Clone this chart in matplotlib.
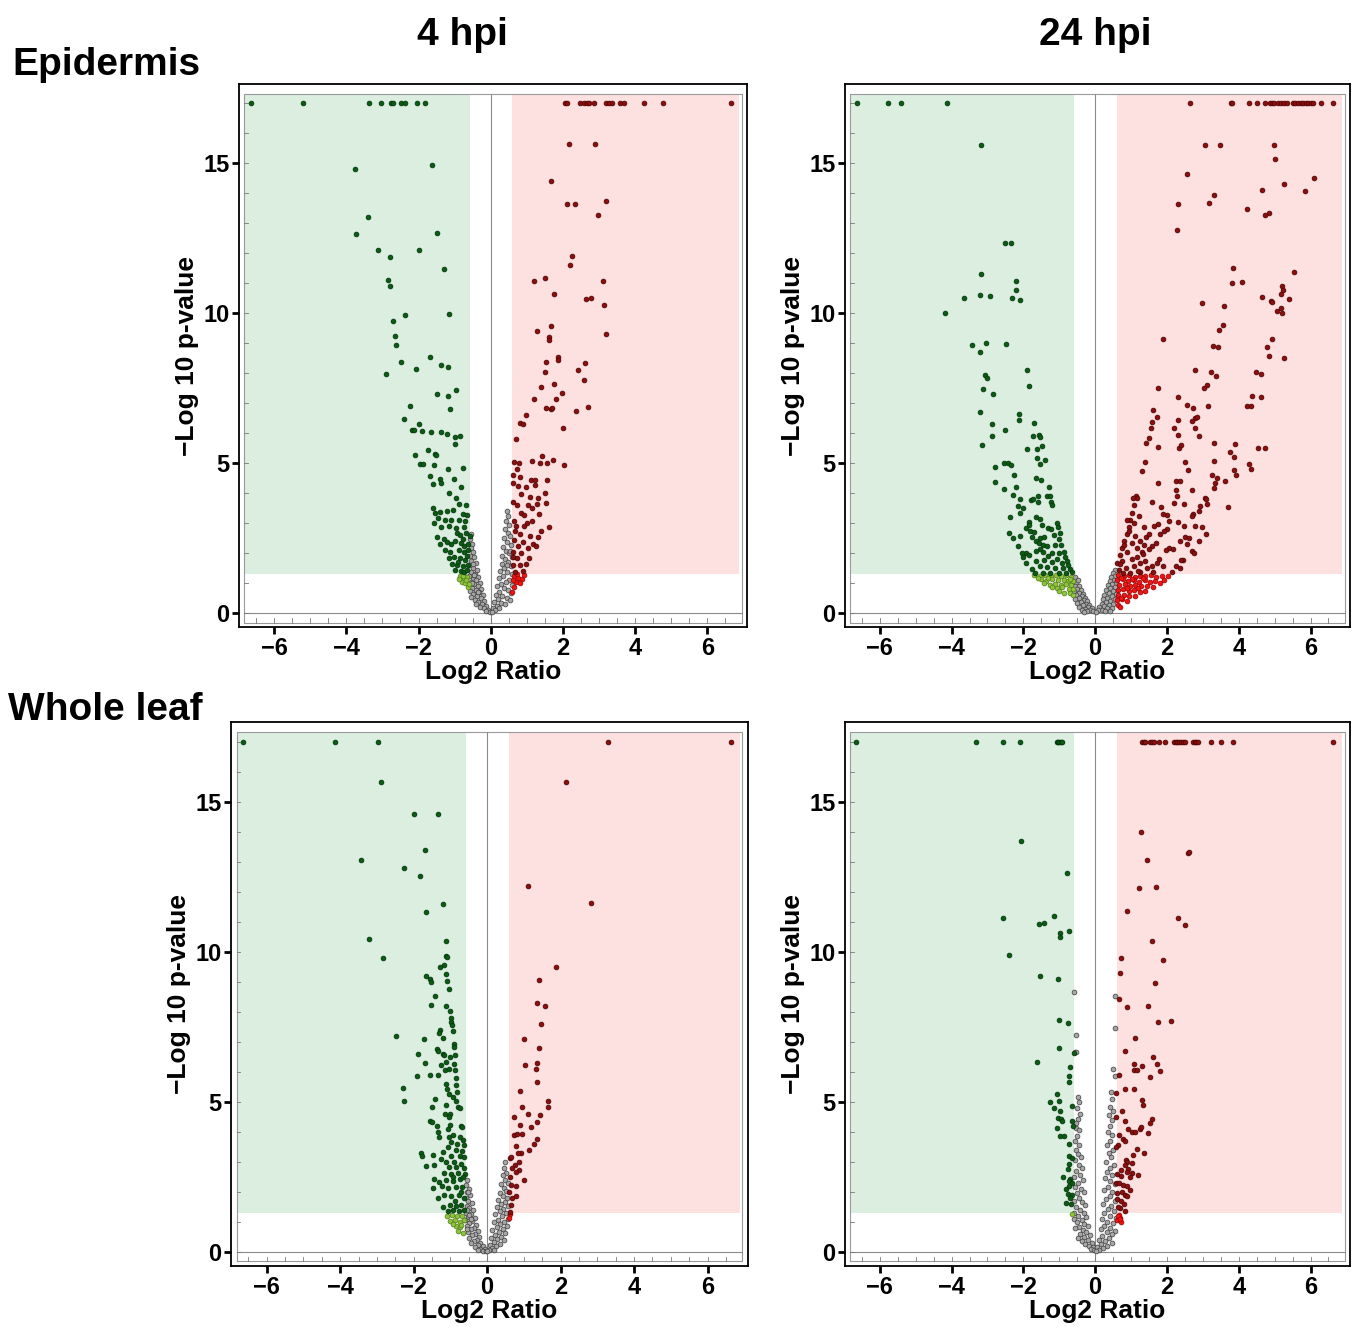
import matplotlib
matplotlib.use("Agg")
import matplotlib.pyplot as plt
import numpy as np

plt.rcParams["font.family"] = ["Liberation Sans", "DejaVu Sans"]
plt.rcParams["font.weight"] = "bold"

# ---------------- data (Log2 ratio, -log10 p) ----------------
# Epidermis 4 hpi
epi4_down = [(-6.63, 17), (-5.19, 17), (-3.36, 17), (-3.05, 17), (-2.77, 17), (-2.72, 17), (-2.49, 17),
             (-2.38, 17), (-2.03, 17), (-1.82, 17),
             (-3.77, 14.8), (-1.63, 14.94), (-3.40, 13.2), (-3.74, 12.65), (-1.49, 12.67), (-3.13, 12.12),
             (-1.99, 12.1), (-2.78, 11.87), (-1.29, 11.46), (-2.84, 11.12), (-2.80, 10.9), (-2.38, 9.94),
             (-1.15, 9.96), (-2.72, 9.74), (-2.64, 9.25), (-2.61, 8.95), (-1.67, 8.54), (-2.48, 8.37),
             (-1.38, 8.26), (-2.07, 8.15), (-1.17, 8.2), (-2.89, 7.98), (-1.49, 7.3), (-1.17, 7.23),
             (-0.96, 7.45), (-1.13, 6.8), (-2.23, 6.9), (-2.40, 6.46), (-2.18, 6.11), (-2.12, 6.09),
             (-1.98, 6.31), (-1.90, 6.06), (-1.65, 6.03), (-1.37, 6.03), (-1.20, 5.98), (-0.99, 5.87),
             (-0.84, 5.91), (-0.99, 5.64), (-2.11, 5.25), (-1.73, 5.43), (-1.54, 5.30), (-1.51, 5.25),
             (-1.95, 4.96), (-1.88, 4.96), (-1.56, 4.93), (-1.18, 4.80), (-0.78, 4.83), (-1.69, 4.56),
             (-1.40, 4.46), (-1.38, 4.32), (-1.59, 4.28), (-1.03, 4.46), (-0.83, 4.20), (-1.15, 4.01),
             (-0.96, 3.84), (-0.88, 3.63), (-0.68, 3.58), (-1.59, 3.48), (-1.54, 3.32), (-1.40, 3.37),
             (-1.21, 3.39), (-1.04, 3.44), (-0.78, 3.29), (-0.65, 3.25), (-1.45, 3.17), (-1.28, 3.10),
             (-1.09, 3.08), (-0.88, 3.10), (-0.70, 3.05), (-1.56, 3.01), (-1.38, 2.86), (-1.15, 2.89),
             (-0.97, 2.82), (-0.74, 2.86), (-0.93, 2.67), (-0.84, 2.59), (-0.69, 2.65), (-0.58, 2.55),
             (-1.49, 2.53), (-1.30, 2.47), (-1.21, 2.36), (-1.10, 2.29), (-1.00, 2.39), (-0.82, 2.34),
             (-0.73, 2.23), (-1.40, 2.29), (-1.26, 2.08), (-1.12, 2.03), (-0.88, 2.08), (-0.74, 2.03),
             (-0.63, 2.08), (-1.16, 1.81), (-1.02, 1.86), (-0.84, 1.81), (-0.70, 1.75), (-1.07, 1.63),
             (-0.93, 1.58), (-0.76, 1.55), (-0.63, 1.60), (-0.81, 1.40), (-0.73, 1.36), (-0.98, 1.43),
             (-0.65, 1.43), (-0.90, 1.70), (-0.66, 1.90), (-0.78, 2.45), (-0.62, 2.30)]
epi4_down_ns = [(-0.84, 1.22), (-0.74, 1.16), (-0.65, 1.19), (-0.79, 1.04), (-0.70, 0.98), (-0.63, 0.86),
                (-0.88, 1.12), (-0.77, 1.24), (-0.68, 1.08), (-0.60, 0.95)]
epi4_up = [(2.05, 17), (2.12, 17), (2.47, 17), (2.58, 17), (2.66, 17), (2.73, 17), (2.87, 17), (3.20, 17),
           (3.27, 17), (3.35, 17), (3.59, 17), (3.68, 17), (4.24, 17), (4.76, 17), (6.64, 17),
           (2.18, 15.64), (2.88, 15.64), (1.66, 14.42), (2.12, 13.65), (2.33, 13.63), (3.18, 13.75),
           (2.97, 13.27), (2.25, 11.92), (2.20, 11.59), (1.21, 11.06), (1.49, 11.17), (3.11, 11.07),
           (1.76, 10.64), (2.63, 10.47), (2.79, 10.52), (3.14, 10.26), (1.67, 9.57), (1.28, 9.39),
           (1.60, 9.19), (1.60, 9.09), (3.18, 9.3), (1.86, 8.53), (1.86, 8.42), (1.53, 8.38), (1.49, 8.05),
           (2.62, 8.35), (2.42, 8.09), (2.57, 7.76), (1.38, 7.55), (1.75, 7.64), (1.97, 7.34), (1.19, 7.12),
           (1.82, 7.12), (1.53, 6.82), (1.66, 6.79), (1.69, 6.83), (2.36, 6.72), (2.68, 6.85), (0.97, 6.59),
           (0.80, 6.34), (0.89, 6.31), (2.01, 6.18), (0.71, 5.79), (2.03, 4.92), (1.43, 5.24), (1.15, 5.05),
           (1.36, 4.98), (1.56, 5.01), (1.73, 5.08), (0.65, 5.04), (0.78, 4.99), (0.73, 4.8), (0.63, 4.61),
           (0.80, 4.53), (1.12, 4.42), (1.23, 4.42), (1.56, 4.44), (0.61, 4.32), (0.76, 4.22), (0.97, 4.20),
           (1.23, 4.27), (1.49, 3.99), (0.84, 3.96), (1.08, 3.87), (1.30, 3.84), (0.61, 3.68), (0.74, 3.60),
           (1.02, 3.60), (1.27, 3.64), (1.53, 3.65), (1.14, 3.48), (0.84, 3.34), (0.93, 3.25), (1.35, 3.31),
           (0.65, 3.05), (1.00, 3.01), (1.15, 3.07), (1.62, 2.86), (0.67, 2.74), (0.91, 2.89), (1.40, 2.74),
           (0.82, 2.62), (1.08, 2.55), (1.30, 2.53), (0.65, 2.41), (0.89, 2.35), (1.17, 2.29), (0.76, 2.22),
           (1.02, 2.15), (1.26, 2.23), (0.63, 2.03), (0.85, 1.99), (1.06, 1.84), (0.72, 1.81), (0.63, 1.60),
           (0.80, 1.58), (0.98, 1.63), (0.89, 1.40), (0.67, 1.36), (0.70, 2.90), (0.62, 1.85)]
epi4_up_ns = [(0.65, 1.22), (0.76, 1.16), (0.87, 1.12), (0.70, 1.04), (0.81, 0.98), (0.65, 0.86),
              (0.74, 1.28), (0.60, 0.68), (0.92, 1.25), (0.62, 1.10)]
epi4_ns = [(-0.55, 2.62), (-0.58, 2.45), (-0.52, 2.30), (-0.56, 2.15), (-0.50, 2.02), (-0.58, 1.90),
           (-0.46, 1.85), (-0.54, 1.72), (-0.42, 1.65), (-0.58, 1.58), (-0.48, 1.50), (-0.38, 1.42),
           (-0.55, 1.36), (-0.44, 1.30), (-0.60, 1.22), (-0.34, 1.20), (-0.50, 1.14), (-0.40, 1.08),
           (-0.56, 1.02), (-0.30, 1.00), (-0.46, 0.95), (-0.36, 0.88), (-0.52, 0.84), (-0.26, 0.80),
           (-0.42, 0.76), (-0.58, 0.72), (-0.32, 0.68), (-0.48, 0.62), (-0.22, 0.60), (-0.38, 0.55),
           (-0.54, 0.52), (-0.28, 0.48), (-0.44, 0.42), (-0.18, 0.40), (-0.34, 0.36), (-0.24, 0.30),
           (-0.40, 0.28), (-0.14, 0.22), (-0.30, 0.20), (-0.20, 0.14), (-0.08, 0.10), (-0.12, 0.05),
           (-0.02, 0.02), (-0.50, 1.62), (-0.46, 1.25), (-0.52, 0.98), (-0.36, 0.70),
           (0.45, 3.40), (0.48, 3.22), (0.43, 3.05), (0.50, 2.92), (0.40, 2.80), (0.47, 2.66), (0.52, 2.55),
           (0.38, 2.48), (0.45, 2.36), (0.55, 2.25), (0.35, 2.18), (0.42, 2.06), (0.50, 1.98), (0.32, 1.90),
           (0.58, 1.85), (0.40, 1.78), (0.48, 1.68), (0.30, 1.62), (0.55, 1.55), (0.38, 1.48), (0.26, 1.40),
           (0.46, 1.35), (0.58, 1.28), (0.34, 1.22), (0.22, 1.15), (0.50, 1.10), (0.42, 1.02), (0.28, 0.96),
           (0.58, 0.92), (0.18, 0.88), (0.36, 0.82), (0.48, 0.76), (0.24, 0.70), (0.56, 0.66), (0.14, 0.60),
           (0.32, 0.56), (0.44, 0.50), (0.20, 0.45), (0.52, 0.42), (0.10, 0.36), (0.28, 0.32), (0.40, 0.28),
           (0.16, 0.22), (0.06, 0.16), (0.24, 0.14), (0.12, 0.08), (0.03, 0.03), (0.52, 2.05), (0.44, 1.58)]

# Epidermis 24 hpi
epi24_down = [(-6.64, 17), (-5.76, 17), (-5.40, 17), (-4.13, 17),
              (-3.19, 15.62), (-2.51, 12.35), (-2.34, 12.35), (-3.19, 11.32), (-2.20, 11.07), (-2.20, 10.76),
              (-3.66, 10.52), (-3.21, 10.62), (-2.94, 10.57), (-2.31, 10.52), (-2.10, 10.43), (-4.18, 10.0),
              (-3.44, 8.94), (-3.03, 8.99), (-2.48, 8.97), (-3.21, 8.71), (-1.89, 8.10), (-3.07, 7.94),
              (-3.01, 7.85), (-1.83, 7.57), (-3.12, 7.48), (-2.85, 7.30), (-3.21, 6.71), (-2.11, 6.63),
              (-2.12, 6.44), (-2.87, 6.31), (-1.69, 6.32), (-2.51, 6.10), (-1.74, 5.89), (-1.57, 5.92),
              (-1.55, 5.85), (-2.88, 5.89), (-3.15, 5.61), (-1.89, 5.47), (-1.63, 5.48), (-1.48, 5.55),
              (-1.62, 5.17), (-1.41, 5.08), (-1.53, 4.96), (-2.54, 4.99), (-2.43, 5.01), (-2.35, 4.94),
              (-2.79, 4.87), (-2.25, 4.59), (-1.66, 4.50), (-1.50, 4.43), (-2.78, 4.36), (-2.20, 4.20),
              (-1.28, 4.18), (-2.53, 4.12), (-2.30, 3.94), (-1.58, 3.88), (-1.33, 3.88), (-1.25, 3.88),
              (-2.08, 3.78), (-1.80, 3.76), (-1.72, 3.79), (-1.59, 3.70), (-1.22, 3.70), (-2.14, 3.56),
              (-1.19, 3.58), (-2.01, 3.48), (-2.08, 3.32), (-2.38, 3.20), (-1.65, 3.20), (-1.55, 3.13),
              (-1.83, 3.02), (-1.85, 2.94), (-1.49, 2.92), (-1.30, 2.84), (-1.05, 2.98), (-1.03, 2.86),
              (-1.22, 2.80), (-1.94, 2.82), (-1.82, 2.72), (-1.70, 2.70), (-2.41, 2.65), (-0.98, 2.65),
              (-2.08, 2.55), (-1.76, 2.51), (-1.55, 2.48), (-1.42, 2.53), (-1.00, 2.47), (-2.30, 2.48),
              (-1.65, 2.39), (-1.57, 2.32), (-1.46, 2.27), (-2.15, 2.24), (-1.35, 2.21), (-1.11, 2.27),
              (-0.95, 2.27), (-1.53, 2.14), (-1.92, 2.00), (-1.83, 1.91), (-1.65, 2.05), (-1.44, 2.03),
              (-1.32, 1.89), (-2.03, 2.00), (-1.20, 2.00), (-1.02, 2.00), (-0.88, 2.03), (-2.02, 1.85),
              (-1.64, 1.73), (-1.42, 1.77), (-1.21, 1.69), (-1.05, 1.79), (-0.93, 1.67), (-0.79, 1.73),
              (-1.93, 1.67), (-1.53, 1.55), (-1.33, 1.53), (-1.11, 1.49), (-0.90, 1.49), (-0.71, 1.46),
              (-1.44, 1.34), (-1.25, 1.31), (-1.67, 1.31), (-1.02, 1.34), (-0.81, 1.34), (-0.65, 1.37),
              (-1.15, 2.60), (-0.85, 1.85), (-1.75, 1.45), (-0.75, 1.58)]
epi24_down_ns = [(-1.70, 1.25), (-1.55, 1.21), (-1.41, 1.26), (-1.24, 1.22), (-1.10, 1.25), (-0.96, 1.21),
                 (-0.81, 1.26), (-0.66, 1.20), (-1.52, 1.11), (-1.36, 1.07), (-1.19, 1.13), (-1.04, 1.08),
                 (-0.88, 1.10), (-0.76, 1.05), (-0.62, 1.06), (-1.42, 0.99), (-1.27, 0.94), (-1.12, 0.97),
                 (-0.95, 0.93), (-0.81, 0.97), (-0.66, 0.92), (-1.21, 0.85), (-1.06, 0.81), (-0.91, 0.86),
                 (-0.74, 0.80), (-0.62, 0.78), (-1.01, 0.71), (-0.86, 0.67), (-0.71, 0.66), (-0.61, 0.60),
                 (-1.30, 1.17), (-0.70, 1.14), (-1.60, 1.16)]
epi24_up = [(2.63, 17), (3.78, 17), (3.82, 17), (4.30, 17), (4.50, 17), (4.73, 17), (4.86, 17), (4.93, 17),
            (4.99, 17), (5.10, 17), (5.17, 17), (5.27, 17), (5.34, 17), (5.52, 17), (5.58, 17), (5.66, 17),
            (5.73, 17), (5.80, 17), (5.88, 17), (5.93, 17), (6.00, 17), (6.08, 17), (6.29, 17), (6.62, 17),
            (3.07, 15.62), (3.49, 15.62), (4.98, 15.62), (5.01, 15.13), (2.57, 14.63), (6.10, 14.50),
            (5.26, 14.30), (5.85, 14.09), (4.65, 14.10), (3.32, 13.96), (2.32, 13.63), (3.17, 13.66),
            (4.24, 13.46), (4.73, 13.28), (4.84, 13.34), (2.29, 12.77), (3.83, 11.52), (3.82, 11.0),
            (4.08, 11.04), (5.53, 11.37), (5.21, 10.89), (5.23, 10.76), (5.17, 10.64), (4.89, 10.41),
            (4.93, 10.38), (4.65, 10.54), (5.39, 10.48), (2.98, 10.33), (3.59, 10.24), (5.18, 10.18),
            (5.07, 10.08), (5.21, 10.0), (3.55, 9.61), (3.45, 9.43), (1.88, 9.13), (4.94, 9.15),
            (3.27, 8.89), (3.42, 8.87), (4.80, 8.87), (4.85, 8.56), (5.26, 8.51), (2.78, 8.10), (3.22, 8.04),
            (3.38, 7.90), (4.48, 8.02), (4.61, 7.97), (3.11, 7.61), (3.04, 7.49), (1.74, 7.49), (2.31, 7.20),
            (4.36, 7.24), (4.61, 7.21), (2.55, 6.92), (2.74, 6.84), (3.14, 6.89), (4.22, 6.91), (4.35, 6.91),
            (1.61, 6.75), (1.72, 6.54), (2.32, 6.44), (2.79, 6.49), (2.84, 6.53), (2.71, 6.41), (1.58, 6.38),
            (1.55, 6.18), (2.21, 6.15), (2.79, 6.15), (2.32, 5.94), (2.90, 5.89), (1.51, 5.84), (1.41, 5.67),
            (1.74, 5.54), (2.33, 5.51), (2.40, 5.61), (3.30, 5.66), (3.90, 5.62), (4.55, 5.51), (4.72, 5.50),
            (3.76, 5.35), (3.88, 5.21), (2.49, 5.04), (3.31, 5.06), (1.39, 5.02), (4.28, 4.95), (4.35, 4.79),
            (2.60, 4.76), (3.86, 4.75), (3.93, 4.58), (1.31, 4.73), (3.26, 4.61), (3.39, 4.51), (3.34, 4.32),
            (3.61, 4.40), (3.32, 4.15), (1.76, 4.32), (2.25, 4.38), (2.37, 4.38), (2.25, 4.08), (2.71, 4.08),
            (2.29, 3.88), (3.05, 3.84), (3.10, 3.79), (3.11, 3.64), (2.92, 3.56), (2.48, 3.63), (2.21, 3.65),
            (1.59, 3.68), (1.84, 3.53), (1.13, 3.91), (1.17, 3.84), (3.70, 3.54), (2.74, 3.28), (2.70, 3.22),
            (2.88, 3.39), (2.01, 3.27), (1.89, 3.29), (2.31, 3.03), (2.06, 3.05), (1.76, 2.95), (1.65, 2.89),
            (2.47, 2.88), (2.78, 2.89), (2.97, 2.86), (2.01, 2.79), (1.93, 2.72), (1.81, 2.63), (3.09, 2.63),
            (2.50, 2.52), (2.62, 2.48), (2.37, 2.39), (2.90, 2.39), (2.55, 2.30), (1.70, 2.32), (1.58, 2.24),
            (1.51, 2.12), (2.06, 2.15), (2.18, 2.12), (1.97, 2.08), (2.69, 2.05), (2.75, 2.00), (2.46, 1.77),
            (2.39, 1.75), (1.79, 1.79), (1.72, 1.67), (2.25, 1.55), (2.37, 1.49), (1.88, 1.55), (2.15, 1.36),
            (1.05, 3.82), (1.07, 3.58), (1.02, 3.34), (0.97, 3.10), (0.93, 2.86), (0.88, 2.63), (0.81, 2.39),
            (0.74, 2.15), (0.68, 1.91), (0.62, 1.67), (0.93, 2.74), (1.11, 2.57), (1.25, 2.39), (1.36, 2.27),
            (1.30, 2.03), (1.16, 2.15), (1.02, 2.32), (0.88, 2.03), (1.02, 1.79), (1.16, 1.85), (1.25, 1.67),
            (1.39, 1.73), (0.74, 1.73), (0.86, 1.49), (1.07, 1.55), (1.44, 1.49), (1.58, 1.55), (1.62, 1.37),
            (0.97, 1.31), (0.77, 1.34), (1.25, 1.37), (0.90, 3.10), (1.09, 2.98), (1.21, 3.22), (1.35, 2.86),
            (1.42, 2.51), (1.51, 2.63), (0.79, 2.27), (0.68, 1.61), (0.66, 1.42), (1.18, 1.40), (1.33, 1.95)]
epi24_up_ns = [(0.65, 1.25), (0.80, 1.21), (0.95, 1.26), (1.10, 1.20), (1.25, 1.24), (1.40, 1.21), (1.55, 1.25),
               (1.70, 1.20), (1.85, 1.24), (2.02, 1.22), (0.62, 1.08), (0.78, 1.11), (0.92, 1.05), (1.08, 1.09),
               (1.22, 1.04), (1.38, 1.08), (1.52, 1.02), (1.68, 1.06), (1.80, 1.00), (0.66, 0.92), (0.82, 0.95),
               (0.98, 0.90), (1.12, 0.94), (1.28, 0.88), (1.45, 0.90), (1.60, 0.85), (0.63, 0.76), (0.78, 0.78),
               (0.94, 0.72), (1.08, 0.76), (1.25, 0.70), (1.40, 0.72), (0.65, 0.58), (0.80, 0.60), (0.95, 0.55),
               (1.10, 0.56), (0.62, 0.42), (0.75, 0.44), (0.88, 0.40), (0.64, 0.26), (0.70, 0.18),
               (0.72, 1.16), (1.02, 1.14), (1.32, 1.15), (0.88, 0.84), (1.18, 0.82), (0.71, 0.50), (1.93, 1.10)]
epi24_ns = [(-0.58, 1.05), (-0.52, 0.98), (-0.56, 0.88), (-0.46, 0.90), (-0.50, 0.80), (-0.40, 0.76), (-0.58, 0.72),
            (-0.44, 0.66), (-0.34, 0.62), (-0.52, 0.60), (-0.38, 0.54), (-0.28, 0.50), (-0.46, 0.48), (-0.56, 0.44),
            (-0.32, 0.42), (-0.22, 0.38), (-0.40, 0.36), (-0.50, 0.32), (-0.26, 0.30), (-0.16, 0.26), (-0.34, 0.24),
            (-0.44, 0.20), (-0.20, 0.18), (-0.10, 0.14), (-0.28, 0.12), (-0.38, 0.10), (-0.14, 0.08), (-0.05, 0.05),
            (-0.22, 0.04), (-0.30, 0.03), (-0.55, 1.20), (-0.48, 1.08),
            (0.55, 1.42), (0.50, 1.32), (0.56, 1.22), (0.45, 1.20), (0.52, 1.10), (0.40, 1.06), (0.58, 1.00),
            (0.46, 0.96), (0.35, 0.92), (0.54, 0.86), (0.42, 0.82), (0.30, 0.76), (0.50, 0.72), (0.38, 0.66),
            (0.58, 0.62), (0.26, 0.58), (0.46, 0.56), (0.34, 0.50), (0.22, 0.44), (0.54, 0.46), (0.42, 0.40),
            (0.30, 0.36), (0.18, 0.30), (0.50, 0.30), (0.38, 0.26), (0.26, 0.22), (0.12, 0.18), (0.46, 0.16),
            (0.34, 0.14), (0.20, 0.10), (0.08, 0.08), (0.28, 0.06), (0.40, 0.05), (0.02, 0.02)]

# Whole leaf 4 hpi
wl4_down = [(-6.65, 17), (-4.15, 17), (-2.98, 17),
            (-2.88, 15.66), (-1.98, 14.58), (-1.34, 14.58), (-1.70, 13.39), (-3.43, 13.06), (-2.25, 12.77),
            (-1.82, 12.52), (-1.20, 11.58), (-1.66, 11.33), (-3.21, 10.42), (-2.82, 9.80), (-1.12, 10.36),
            (-1.11, 9.86), (-1.10, 9.81), (-1.29, 9.50), (-1.16, 9.56), (-1.13, 9.24), (-1.66, 9.17),
            (-1.55, 9.09), (-1.54, 8.98), (-1.08, 9.02), (-1.04, 8.75), (-1.41, 8.53), (-1.53, 8.23),
            (-1.12, 8.20), (-1.00, 8.02), (-0.97, 7.80), (-0.97, 7.65), (-0.96, 7.55), (-1.27, 7.37),
            (-1.30, 7.27), (-0.94, 7.35), (-2.49, 7.19), (-1.71, 7.08), (-1.21, 7.12), (-0.91, 6.92),
            (-0.89, 6.83), (-1.37, 6.75), (-1.34, 6.67), (-1.19, 6.59), (-1.16, 6.55), (-0.88, 6.56),
            (-1.87, 6.58), (-1.02, 6.48), (-1.12, 6.32), (-0.91, 6.26), (-1.70, 6.28), (-1.25, 6.21),
            (-1.03, 6.10), (-1.14, 6.05), (-1.55, 5.87), (-1.91, 5.84), (-0.87, 6.05), (-1.35, 5.90),
            (-0.86, 5.77), (-1.13, 5.60), (-0.84, 5.54), (-2.30, 5.46), (-1.10, 5.41), (-0.82, 5.32),
            (-1.04, 5.25), (-0.93, 5.14), (-1.42, 5.08), (-2.25, 5.01), (-0.86, 5.01), (-1.12, 4.89),
            (-0.80, 4.82), (-1.51, 4.81), (-0.75, 4.78), (-1.15, 4.60), (-1.00, 4.58), (-1.04, 4.47),
            (-1.56, 4.35), (-1.49, 4.32), (-0.70, 4.20), (-1.02, 4.23), (-1.36, 4.20), (-1.07, 4.08),
            (-0.68, 4.15), (-1.35, 3.99), (-1.30, 3.82), (-1.05, 3.82), (-0.93, 3.88), (-0.75, 3.82),
            (-0.65, 3.72), (-0.98, 3.64), (-0.82, 3.58), (-0.63, 3.55), (-1.07, 3.48), (-0.86, 3.40),
            (-0.68, 3.36), (-1.81, 3.29), (-1.76, 3.20), (-1.21, 3.31), (-1.48, 3.22), (-0.98, 3.20),
            (-0.75, 3.17), (-0.62, 3.15), (-1.25, 3.08), (-1.12, 3.00), (-0.91, 2.98), (-0.70, 2.93),
            (-1.66, 2.84), (-1.44, 2.89), (-1.04, 2.81), (-0.84, 2.81), (-0.64, 2.80), (-1.16, 2.62),
            (-0.98, 2.60), (-0.79, 2.62), (-0.61, 2.60), (-1.45, 2.41), (-1.30, 2.32), (-1.12, 2.38),
            (-0.93, 2.36), (-0.75, 2.41), (-1.47, 2.12), (-1.23, 2.17), (-1.07, 2.12), (-0.86, 2.15),
            (-0.67, 2.15), (-1.33, 1.79), (-1.16, 1.88), (-0.97, 1.85), (-0.76, 1.88), (-0.64, 1.79),
            (-1.21, 1.49), (-1.02, 1.55), (-0.84, 1.53), (-0.70, 1.55), (-0.93, 1.37), (-0.76, 1.34),
            (-1.06, 1.34), (-0.62, 1.40), (-0.72, 2.00), (-0.88, 1.70), (-0.66, 2.48), (-0.92, 2.50)]
wl4_down_ns = [(-1.09, 1.19), (-0.95, 1.22), (-0.82, 1.19), (-0.69, 1.17), (-1.02, 1.03), (-0.88, 1.05),
               (-0.75, 0.98), (-0.85, 0.86), (-0.73, 0.81), (-0.79, 0.69), (-0.65, 0.62), (-0.93, 0.93),
               (-0.64, 1.05), (-0.70, 0.90)]
wl4_up = [(3.28, 17), (6.65, 17),
          (2.16, 15.66), (1.12, 12.19), (2.82, 11.63), (1.88, 9.50), (1.42, 9.04), (1.35, 8.27), (1.57, 8.20),
          (1.47, 7.57), (1.00, 7.07), (1.42, 6.78), (1.04, 6.21), (1.35, 6.27), (1.34, 6.09), (1.36, 5.64),
          (0.90, 5.34), (1.67, 5.02), (1.65, 4.81), (0.96, 4.82), (0.73, 4.50), (1.12, 4.57), (1.45, 4.55),
          (0.89, 4.23), (1.37, 4.32), (1.19, 4.15), (0.73, 3.90), (0.82, 3.91), (0.96, 3.91), (1.35, 3.74),
          (1.28, 3.58), (0.78, 3.52), (1.13, 3.39), (0.91, 3.29), (0.84, 3.29), (0.62, 3.12), (0.66, 3.15),
          (0.87, 2.98), (0.75, 2.89), (0.67, 2.77), (0.88, 2.72), (0.80, 2.65), (0.61, 2.50), (1.01, 2.38),
          (0.80, 2.18), (0.64, 2.21), (0.59, 1.97), (0.78, 1.85), (0.68, 1.79), (0.64, 1.55), (0.62, 1.31)]
wl4_up_ns = [(0.62, 1.24), (0.60, 1.12)]
wl4_ns = [(-0.54, 2.38), (-0.58, 2.22), (-0.50, 2.10), (-0.56, 1.98), (-0.46, 1.90), (-0.58, 1.80), (-0.52, 1.70),
          (-0.42, 1.62), (-0.56, 1.52), (-0.48, 1.44), (-0.38, 1.38), (-0.58, 1.30), (-0.44, 1.24), (-0.52, 1.16),
          (-0.34, 1.12), (-0.60, 1.06), (-0.40, 1.02), (-0.48, 0.94), (-0.30, 0.90), (-0.56, 0.86), (-0.36, 0.80),
          (-0.44, 0.74), (-0.26, 0.70), (-0.52, 0.66), (-0.32, 0.60), (-0.40, 0.54), (-0.22, 0.50), (-0.48, 0.46),
          (-0.28, 0.40), (-0.36, 0.34), (-0.18, 0.30), (-0.44, 0.28), (-0.24, 0.22), (-0.12, 0.18), (-0.32, 0.16),
          (-0.18, 0.10), (-0.06, 0.08), (-0.26, 0.06), (-0.10, 0.03), (-0.02, 0.01), (-0.52, 2.00), (-0.56, 1.40),
          (-0.50, 1.22), (-0.44, 1.08), (-0.54, 0.76),
          (0.50, 2.98), (0.46, 2.78), (0.52, 2.62), (0.42, 2.55), (0.48, 2.40), (0.56, 2.30), (0.38, 2.25),
          (0.45, 2.12), (0.52, 2.02), (0.34, 1.96), (0.42, 1.86), (0.55, 1.80), (0.30, 1.72), (0.48, 1.66),
          (0.38, 1.58), (0.58, 1.52), (0.26, 1.48), (0.44, 1.42), (0.34, 1.34), (0.52, 1.28), (0.22, 1.24),
          (0.40, 1.18), (0.58, 1.10), (0.30, 1.06), (0.46, 1.00), (0.18, 0.98), (0.36, 0.92), (0.54, 0.86),
          (0.26, 0.82), (0.42, 0.76), (0.14, 0.72), (0.32, 0.66), (0.50, 0.62), (0.22, 0.56), (0.38, 0.50),
          (0.10, 0.46), (0.28, 0.42), (0.46, 0.38), (0.18, 0.32), (0.34, 0.26), (0.08, 0.22), (0.24, 0.18),
          (0.14, 0.12), (0.04, 0.06), (0.20, 0.05), (0.01, 0.01)]

# Whole leaf 24 hpi
wl24_down = [(-6.66, 17), (-3.31, 17), (-2.57, 17), (-2.09, 17), (-1.07, 17), (-1.03, 17), (-1.00, 17),
             (-0.96, 17), (-0.92, 17),
             (-2.06, 13.67), (-0.79, 12.61), (-2.57, 11.12), (-1.15, 11.20), (-1.56, 10.92), (-1.42, 10.94),
             (-0.73, 10.68), (-0.98, 10.62), (-0.98, 10.49), (-2.40, 9.87), (-1.55, 9.17), (-1.03, 9.08),
             (-1.00, 7.72), (-0.75, 7.63), (-1.02, 6.78), (-1.62, 6.32), (-0.60, 6.62), (-0.70, 6.16),
             (-0.72, 5.85), (-0.74, 5.65), (-1.06, 5.24), (-1.25, 4.97), (-1.02, 5.01), (-1.15, 4.79),
             (-0.64, 4.84), (-0.99, 4.67), (-1.03, 4.46), (-0.95, 4.43), (-0.92, 4.34), (-0.65, 4.34),
             (-1.07, 4.12), (-0.62, 4.20), (-0.97, 3.86), (-0.88, 3.84), (-0.74, 3.60), (-0.72, 3.17),
             (-0.65, 3.12), (-0.74, 2.93), (-0.75, 2.74), (-0.90, 2.50), (-0.70, 2.41), (-0.74, 2.34),
             (-0.65, 2.29), (-0.72, 2.19), (-0.81, 2.07), (-0.75, 1.93), (-0.65, 1.87), (-0.70, 1.79),
             (-0.81, 1.63), (-0.67, 1.57)]
wl24_down_ns = [(-0.64, 1.24)]
wl24_up = [(1.31, 17), (1.35, 17), (1.39, 17), (1.52, 17), (1.58, 17), (1.65, 17), (1.78, 17), (1.95, 17),
           (2.19, 17), (2.24, 17), (2.28, 17), (2.34, 17), (2.39, 17), (2.45, 17), (2.50, 17), (2.73, 17),
           (2.77, 17), (2.80, 17), (2.86, 17), (3.23, 17), (3.52, 17), (3.85, 17), (6.62, 17),
           (1.29, 13.97), (2.59, 13.29), (2.61, 13.33), (1.45, 13.06), (1.22, 12.12), (1.70, 12.16),
           (0.89, 11.35), (2.31, 11.11), (2.49, 10.87), (1.58, 10.34), (0.73, 9.80), (1.89, 9.73), (0.70, 9.27),
           (1.68, 8.96), (0.66, 8.43), (0.89, 8.14), (1.48, 8.20), (1.75, 7.65), (2.12, 7.69), (1.10, 7.11),
           (0.83, 6.67), (1.61, 6.48), (1.09, 6.25), (1.30, 6.17), (1.71, 6.26), (1.09, 6.06), (1.16, 6.05),
           (1.80, 6.03), (0.66, 5.90), (1.52, 5.83), (1.07, 5.41), (0.84, 5.43), (0.59, 5.27), (1.31, 5.05),
           (1.34, 4.89), (0.75, 4.70), (0.57, 4.47), (0.84, 4.35), (1.58, 4.43), (1.52, 4.30), (0.92, 4.08),
           (1.03, 3.99), (1.10, 3.98), (1.24, 4.10), (1.28, 4.14), (1.47, 3.94), (0.66, 3.89), (0.77, 3.74),
           (0.84, 3.67), (0.64, 3.54), (0.59, 3.48), (1.17, 3.43), (1.37, 3.29), (1.06, 3.22), (0.86, 3.06),
           (0.90, 3.00), (1.02, 2.94), (0.83, 2.88), (0.71, 2.71), (0.92, 2.74), (0.88, 2.65), (1.03, 2.62),
           (1.19, 2.55), (0.73, 2.53), (0.97, 2.47), (0.59, 2.29), (0.66, 2.29), (0.78, 2.23), (0.88, 2.17),
           (0.96, 2.05), (0.74, 1.99), (0.62, 1.95), (0.82, 1.90), (0.89, 1.84), (0.61, 1.75), (0.71, 1.69),
           (0.79, 1.57), (0.68, 1.45), (0.82, 1.36), (0.60, 2.60), (0.63, 1.50)]
wl24_up_ns = [(0.66, 1.22), (0.70, 1.12), (0.61, 1.04), (0.72, 0.98), (0.64, 1.19), (0.68, 1.07)]
wl24_ns = [(-0.59, 8.65), (-0.53, 7.22), (-0.55, 6.64), (-0.53, 6.66), (-0.48, 5.16), (-0.46, 5.00), (-0.50, 4.78),
           (-0.43, 4.60), (-0.48, 4.42), (-0.53, 4.30), (-0.52, 4.12), (-0.45, 4.05), (-0.50, 3.85), (-0.56, 3.70),
           (-0.44, 3.55), (-0.52, 3.40), (-0.47, 3.25), (-0.40, 3.15), (-0.55, 3.05), (-0.45, 2.90), (-0.38, 2.78),
           (-0.52, 2.70), (-0.42, 2.55), (-0.58, 2.50), (-0.35, 2.40), (-0.48, 2.30), (-0.55, 2.15), (-0.40, 2.10),
           (-0.32, 2.00), (-0.50, 1.95), (-0.45, 1.80), (-0.58, 1.70), (-0.36, 1.65), (-0.28, 1.55), (-0.52, 1.50),
           (-0.42, 1.40), (-0.60, 1.30), (-0.32, 1.28), (-0.48, 1.20), (-0.25, 1.15), (-0.58, 1.10), (-0.38, 1.05),
           (-0.50, 0.98), (-0.30, 0.92), (-0.20, 0.85), (-0.45, 0.82), (-0.55, 0.78), (-0.35, 0.72), (-0.25, 0.66),
           (-0.42, 0.60), (-0.15, 0.55), (-0.30, 0.50), (-0.48, 0.46), (-0.20, 0.40), (-0.38, 0.36), (-0.10, 0.30),
           (-0.28, 0.26), (-0.18, 0.20), (-0.06, 0.15), (-0.12, 0.10), (-0.03, 0.05),
           (0.56, 8.53), (0.54, 7.44), (0.51, 6.08), (0.54, 5.86), (0.45, 5.33), (0.48, 5.10), (0.42, 4.82),
           (0.51, 4.70), (0.38, 4.55), (0.46, 4.40), (0.40, 4.20), (0.35, 4.00), (0.48, 3.90), (0.42, 3.70),
           (0.32, 3.55), (0.50, 3.40), (0.38, 3.30), (0.44, 3.15), (0.30, 3.00), (0.52, 2.90), (0.40, 2.80),
           (0.34, 2.65), (0.48, 2.55), (0.28, 2.45), (0.42, 2.35), (0.55, 2.25), (0.36, 2.15), (0.25, 2.05),
           (0.48, 1.98), (0.40, 1.85), (0.30, 1.75), (0.56, 1.68), (0.22, 1.60), (0.45, 1.52), (0.35, 1.42),
           (0.52, 1.35), (0.26, 1.28), (0.42, 1.20), (0.58, 1.12), (0.18, 1.08), (0.34, 1.00), (0.50, 0.94),
           (0.25, 0.86), (0.42, 0.80), (0.15, 0.74), (0.56, 0.70), (0.32, 0.64), (0.46, 0.58), (0.20, 0.52),
           (0.38, 0.46), (0.10, 0.40), (0.28, 0.35), (0.48, 0.30), (0.16, 0.25), (0.34, 0.20), (0.06, 0.15),
           (0.22, 0.12), (0.10, 0.06), (0.02, 0.02)]

col_titles = ["4 hpi", "24 hpi"]
row_titles = ["Epidermis", "Whole leaf"]
x_ticks = [-6, -4, -2, 0, 2, 4, 6]
y_ticks = [0, 5, 10, 15]

panels = [
    (epi4_ns, epi4_down_ns, epi4_up_ns, epi4_down, epi4_up),
    (epi24_ns, epi24_down_ns, epi24_up_ns, epi24_down, epi24_up),
    (wl4_ns, wl4_down_ns, wl4_up_ns, wl4_down, wl4_up),
    (wl24_ns, wl24_down_ns, wl24_up_ns, wl24_down, wl24_up),
]

# ---------------- figure ----------------
fig = plt.figure(figsize=(13.55, 13.33), dpi=100)
positions = [
    [0.1764, 0.5296, 0.3750, 0.4074],
    [0.6236, 0.5296, 0.3727, 0.4074],
    [0.1705, 0.0503, 0.3815, 0.4080],
    [0.6236, 0.0503, 0.3727, 0.4080],
]

XL, XR = -6.82, 6.95   # inner frame
YB, YT = -0.33, 17.33


def scatter(ax, pts, face, edge, z):
    if not pts:
        return
    arr = np.array(pts)
    ax.scatter(arr[:, 0], arr[:, 1], s=12, c=face, edgecolors=edge, linewidths=0.5, zorder=z)


for pos, (ns, down_ns, up_ns, down, up) in zip(positions, panels):
    ax = fig.add_axes(pos)
    ax.set_xlim(-6.97, 7.1)
    ax.set_ylim(-0.48, 17.65)

    # shaded significance zones
    ax.fill_between([XL, -0.58], 1.3, YT, color="#dbeee0", lw=0, zorder=0)
    ax.fill_between([0.6, 6.88], 1.3, YT, color="#fde0e0", lw=0, zorder=0)

    # inner frame, zero lines, small ticks
    ax.plot([XL, XR, XR, XL, XL], [YB, YB, YT, YT, YB], color="#9a9a9a", lw=0.8, zorder=1)
    ax.plot([XL, XR], [0, 0], color="#8a8a8a", lw=0.8, zorder=1)
    ax.plot([0, 0], [YB, YT], color="#8a8a8a", lw=0.8, zorder=1)
    for xm in np.arange(-6.5, 7.0, 0.5):
        ax.plot([xm, xm], [YB, YB + 0.14], color="#777777", lw=0.6, zorder=1)
    for ym in range(0, 18):
        ax.plot([XL, XL + 0.09], [ym, ym], color="#777777", lw=0.6, zorder=1)

    scatter(ax, ns, "#a6a6a6", "#3c3c3c", 2)
    scatter(ax, down_ns, "#8cc43a", "#557a1c", 3)
    scatter(ax, up_ns, "#ee1515", "#9a0000", 3)
    scatter(ax, down, "#0b5c12", "#02300a", 4)
    scatter(ax, up, "#8a0f0f", "#4a0000", 4)

    ax.set_xticks(x_ticks)
    ax.set_yticks(y_ticks)
    ax.tick_params(direction="out", length=5, width=2, labelsize=17, pad=2)
    for lab in ax.get_xticklabels() + ax.get_yticklabels():
        lab.set_fontweight("bold")
    for sp in ax.spines.values():
        sp.set_linewidth(1.3)
    ax.set_xlabel("Log2 Ratio", fontsize=19, fontweight="bold", labelpad=0)
    ax.set_ylabel("\u2212Log 10 p-value", fontsize=19, fontweight="bold", labelpad=3)

fig.text(0.341, 0.974, col_titles[0], fontsize=28, fontweight="bold", ha="center", va="center")
fig.text(0.808, 0.974, col_titles[1], fontsize=28, fontweight="bold", ha="center", va="center")
fig.text(0.009, 0.951, row_titles[0], fontsize=28, fontweight="bold", ha="left", va="center")
fig.text(0.006, 0.467, row_titles[1], fontsize=28, fontweight="bold", ha="left", va="center")

fig.savefig("out.png", dpi=100)
